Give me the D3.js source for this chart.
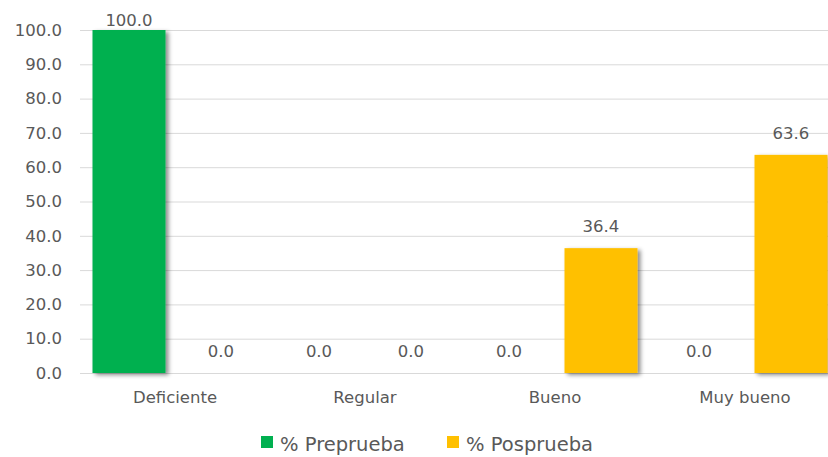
<!DOCTYPE html>
<html>
<head>
<meta charset="utf-8">
<script src="https://cdn.jsdelivr.net/npm/d3@7/dist/d3.min.js"></script>
<style>
  html, body { margin: 0; padding: 0; background: #fff; }
  svg { display: block; font-family: "DejaVu Sans", sans-serif; }
</style>
</head>
<body>
<svg id="chart" width="828" height="457"></svg>
<script>
// Grouped bar chart: percentage of results per level, pre-test vs post-test
const categories = ["Deficiente", "Regular", "Bueno", "Muy bueno"];
const seriesNames = ["% Preprueba", "% Posprueba"];
const preprueba = [100.0, 0.0, 0.0, 0.0];
const posprueba = [0.0, 0.0, 36.4, 63.6];
const yTicks = [0, 10, 20, 30, 40, 50, 60, 70, 80, 90, 100];
const colors = ["#00B050", "#FFC000"];

const svg = d3.select("#chart");
const textColor = "#595959";

const margin = { left: 80, right: -12, top: 30, bottom: 84 };
const W = 828, H = 457;

const x0 = d3.scaleBand().domain(categories)
  .range([margin.left, W - margin.right]).padding(0);
const x1 = d3.scaleBand().domain(seriesNames)
  .range([12.5, x0.bandwidth() - 12.5]).paddingInner(0.2065);
const y = d3.scaleLinear().domain([0, 100]).range([H - margin.bottom, margin.top]);

const defs = svg.append("defs");
const f = defs.append("filter").attr("id", "shadow")
  .attr("x", "-20%").attr("y", "-10%").attr("width", "150%").attr("height", "130%");
f.append("feDropShadow").attr("dx", 3).attr("dy", 2).attr("stdDeviation", 2)
  .attr("flood-color", "#000").attr("flood-opacity", 0.45);

// Horizontal gridlines and y-axis labels
const yAxis = d3.axisLeft(y).tickValues(yTicks).tickFormat(d3.format(".1f"))
  .tickSize(-(W - margin.left)).tickPadding(18);
const gy = svg.append("g").attr("transform", `translate(${margin.left},0)`).call(yAxis);
gy.select(".domain").remove();
gy.selectAll(".tick line").attr("stroke", "#d9d9d9").attr("stroke-width", 1);
gy.selectAll(".tick text").attr("fill", textColor).style("font-size", "16.5px")
  .style("font-family", "DejaVu Sans, sans-serif");

// Category axis labels
const xAxis = d3.axisBottom(x0).tickSize(0).tickPadding(18);
const gx = svg.append("g").attr("transform", `translate(0,${y(0)})`).call(xAxis);
gx.select(".domain").remove();
gx.selectAll(".tick text").attr("fill", textColor).style("font-size", "16.5px")
  .style("font-family", "DejaVu Sans, sans-serif");

const rows = categories.map((c, i) => ({
  cat: c,
  vals: [{ s: seriesNames[0], v: preprueba[i], k: 0 }, { s: seriesNames[1], v: posprueba[i], k: 1 }]
}));

const groups = svg.append("g").selectAll("g").data(rows).join("g")
  .attr("transform", d => `translate(${x0(d.cat)},0)`);

groups.selectAll("rect").data(d => d.vals.filter(v => v.v > 0)).join("rect")
  .attr("x", d => x1(d.s))
  .attr("y", d => y(d.v))
  .attr("width", x1.bandwidth())
  .attr("height", d => y(0) - y(d.v))
  .attr("fill", d => colors[d.k])
  .attr("filter", "url(#shadow)");

groups.selectAll("text.val").data(d => d.vals).join("text")
  .attr("class", "val")
  .attr("x", d => x1(d.s) + x1.bandwidth() / 2)
  .attr("y", d => Math.max(y(d.v) - 16, 26))
  .attr("text-anchor", "middle")
  .attr("fill", textColor)
  .style("font-size", "16.5px")
  .text(d => d.v.toFixed(1));

// Legend
const legend = svg.append("g").attr("transform", "translate(261,451)");
const items = [{ n: seriesNames[0], c: colors[0], x: 0 }, { n: seriesNames[1], c: colors[1], x: 186 }];
const li = legend.selectAll("g").data(items).join("g").attr("transform", d => `translate(${d.x},0)`);
li.append("rect").attr("x", 0).attr("y", -15).attr("width", 12).attr("height", 12).attr("fill", d => d.c);
li.append("text").attr("x", 19).attr("y", 0).attr("fill", textColor)
  .style("font-size", "19.5px").text(d => d.n);
</script>
</body>
</html>
